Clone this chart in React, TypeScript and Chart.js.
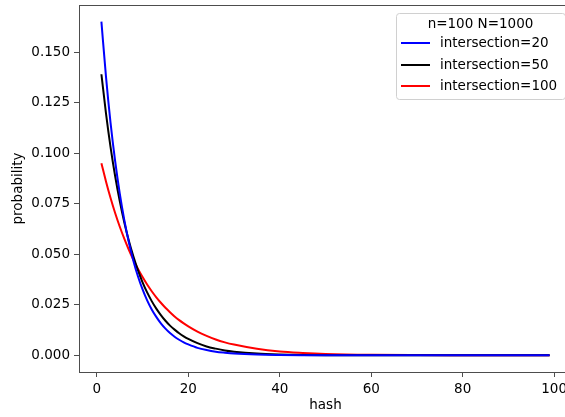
import React, { useEffect, useRef } from "react";
import { Chart, registerables } from "chart.js";

Chart.register(...registerables);

const hashValues = [1, 2, 3, 4, 5, 6, 7, 8, 9, 10, 11, 12, 13, 14, 15, 16, 17, 18, 19, 20, 22, 24, 26, 28, 30, 35, 40, 45, 50, 60, 70, 80, 90, 99];

const probIntersection20 = [0.1650, 0.1378, 0.1150, 0.0961, 0.0802, 0.0670, 0.0559, 0.0467, 0.0390, 0.0326, 0.0272, 0.0227, 0.0190, 0.0158, 0.0132, 0.0110, 0.0092, 0.0077, 0.0064, 0.0054, 0.0037, 0.0026, 0.0018, 0.0013, 0.0009, 0.00036, 0.00015, 0.00006, 0.000025, 0.000004, 0.000001, 0, 0, 0];

const probIntersection50 = [0.1390, 0.1197, 0.1030, 0.0887, 0.0764, 0.0658, 0.0566, 0.0488, 0.0420, 0.0361, 0.0311, 0.0268, 0.0231, 0.0199, 0.0171, 0.0147, 0.0127, 0.0109, 0.0094, 0.0081, 0.0060, 0.0044, 0.0033, 0.0024, 0.0018, 0.00086, 0.00041, 0.00019, 0.00009, 0.00002, 0.000005, 0.000001, 0, 0];

const probIntersection100 = [0.0950, 0.0860, 0.0778, 0.0704, 0.0637, 0.0577, 0.0522, 0.0472, 0.0427, 0.0387, 0.0350, 0.0317, 0.0287, 0.0260, 0.0235, 0.0213, 0.0192, 0.0174, 0.0158, 0.0143, 0.0117, 0.0096, 0.0078, 0.0064, 0.0053, 0.0032, 0.0019, 0.0012, 0.00071, 0.00026, 0.0001, 0.00004, 0.000014, 0.000005];

const seriesLabels = ["intersection=20", "intersection=50", "intersection=100"];
const seriesColors = ["#0000ff", "#000000", "#ff0000"];
const legendTitle = "n=100 N=1000";

const xTicks = [0, 20, 40, 60, 80, 100];
const yTicks = [0, 0.025, 0.05, 0.075, 0.1, 0.125, 0.15];

const FONT = "'DejaVu Sans', sans-serif";
const FONT_SIZE = 13.5;

const framePlugin = {
  id: "frame",
  afterDraw(chart: any) {
    const { ctx, chartArea } = chart;
    ctx.save();
    ctx.strokeStyle = "#4d4d4d";
    ctx.lineWidth = 1;
    ctx.beginPath();
    ctx.moveTo(chartArea.left, chartArea.top + 0.5);
    ctx.lineTo(chartArea.right, chartArea.top + 0.5);
    ctx.stroke();
    ctx.restore();

    // legend
    const x0 = 396, y0 = 13, w = 169, h = 86;
    ctx.save();
    ctx.fillStyle = "rgba(255,255,255,0.85)";
    ctx.strokeStyle = "#d0d0d0";
    ctx.lineWidth = 1;
    ctx.beginPath();
    const r = 3;
    ctx.moveTo(x0 + r + 0.5, y0 + 0.5);
    ctx.lineTo(x0 + w - r + 0.5, y0 + 0.5);
    ctx.arcTo(x0 + w + 0.5, y0 + 0.5, x0 + w + 0.5, y0 + r + 0.5, r);
    ctx.lineTo(x0 + w + 0.5, y0 + h - r + 0.5);
    ctx.arcTo(x0 + w + 0.5, y0 + h + 0.5, x0 + w - r + 0.5, y0 + h + 0.5, r);
    ctx.lineTo(x0 + r + 0.5, y0 + h + 0.5);
    ctx.arcTo(x0 + 0.5, y0 + h + 0.5, x0 + 0.5, y0 + h - r + 0.5, r);
    ctx.lineTo(x0 + 0.5, y0 + r + 0.5);
    ctx.arcTo(x0 + 0.5, y0 + 0.5, x0 + r + 0.5, y0 + 0.5, r);
    ctx.closePath();
    ctx.fill();
    ctx.stroke();

    ctx.font = `${FONT_SIZE}px ${FONT}`;
    ctx.fillStyle = "#000";
    ctx.textBaseline = "middle";
    ctx.textAlign = "center";
    ctx.fillText(legendTitle, 480.5, 24);
    ctx.textAlign = "left";
    const rows = [43, 65, 86];
    chart.data.datasets.forEach((ds: any, i: number) => {
      const y = rows[i];
      ctx.strokeStyle = ds.borderColor;
      ctx.lineWidth = 2;
      ctx.beginPath();
      ctx.moveTo(401, y);
      ctx.lineTo(430, y);
      ctx.stroke();
      ctx.fillStyle = "#000";
      ctx.fillText(ds.label, 440, y + 0.5);
    });
    ctx.restore();
  },
};

function zeroPadding(scale: any) {
  scale.paddingTop = 0;
  scale.paddingBottom = 0;
  scale.paddingLeft = 0;
  scale.paddingRight = 0;
}

export default function App() {
  const ref = useRef<HTMLCanvasElement>(null);

  useEffect(() => {
    if (!ref.current) return;
    const series = [probIntersection20, probIntersection50, probIntersection100];
    const chart = new Chart(ref.current, {
      type: "line",
      data: {
        datasets: series.map((vals, i) => ({
          label: seriesLabels[i],
          data: hashValues.map((x, j) => ({ x, y: vals[j] })),
          borderColor: seriesColors[i],
          backgroundColor: seriesColors[i],
          borderWidth: 2,
          pointRadius: 0,
          cubicInterpolationMode: "monotone" as const,
          fill: false,
        })),
      },
      options: {
        responsive: false,
        animation: false,
        devicePixelRatio: 1,
        layout: { padding: { left: 0, top: 5, right: 8, bottom: 0 } },
        plugins: {
          legend: { display: false },
          tooltip: { enabled: false },
        },
        scales: {
          x: {
            type: "linear",
            min: -3.9,
            max: 103.9,
            afterFit(scale: any) {
              scale.height = 45;
              zeroPadding(scale);
            },
            afterBuildTicks(scale: any) {
              scale.ticks = xTicks.map((v) => ({ value: v }));
            },
            grid: {
              drawOnChartArea: false,
              drawTicks: true,
              tickLength: 5,
              color: "#4d4d4d",
            },
            border: { display: true, color: "#4d4d4d" },
            ticks: {
              padding: 4,
              color: "#000",
              font: { family: FONT, size: FONT_SIZE },
              maxRotation: 0,
              autoSkip: false,
              callback: (v: any) => String(v),
            },
            title: {
              display: true,
              text: "hash",
              color: "#000",
              font: { family: FONT, size: FONT_SIZE },
              padding: { top: 0, bottom: 3 },
            },
          },
          y: {
            type: "linear",
            min: -0.00825,
            max: 0.17325,
            afterFit(scale: any) {
              scale.width = 79;
              zeroPadding(scale);
            },
            afterBuildTicks(scale: any) {
              scale.ticks = yTicks.map((v) => ({ value: v }));
            },
            grid: {
              drawOnChartArea: false,
              drawTicks: true,
              tickLength: 5,
              color: "#4d4d4d",
            },
            border: { display: true, color: "#4d4d4d" },
            ticks: {
              padding: 4,
              color: "#000",
              font: { family: FONT, size: FONT_SIZE },
              autoSkip: false,
              callback: (v: any) => Number(v).toFixed(3),
            },
            title: {
              display: true,
              text: "probability",
              color: "#000",
              font: { family: FONT, size: FONT_SIZE },
              padding: { top: 10, bottom: 0 },
            },
          },
        },
      },
      plugins: [framePlugin],
    });
    return () => chart.destroy();
  }, []);

  return (
    <div style={{ position: "fixed", left: 0, top: 0, width: 565, height: 417, overflow: "hidden", background: "#fff" }}>
      <canvas ref={ref} width={580} height={417} style={{ display: "block" }} />
    </div>
  );
}
